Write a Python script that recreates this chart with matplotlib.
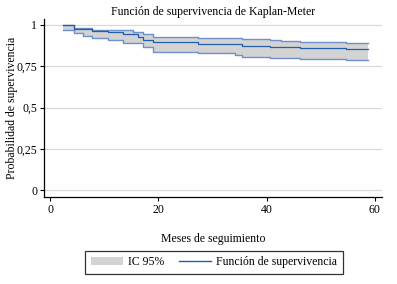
import matplotlib
matplotlib.use("Agg")
import matplotlib.pyplot as plt
from matplotlib.patches import Patch
from matplotlib.lines import Line2D

# Data
months = [2.4, 4.5, 6.0, 7.7, 10.8, 13.5, 15.4, 16.3, 17.2, 19.1, 27.4, 34.1, 35.5, 40.6, 42.7, 46.2, 54.7, 58.7]
survival = [1.0, 0.976, 0.976, 0.964, 0.956, 0.945, 0.945, 0.929, 0.909, 0.895, 0.885, 0.885, 0.873, 0.868, 0.868, 0.859, 0.853, 0.853]
ci_upper = [1.0, 0.984, 0.984, 0.972, 0.968, 0.968, 0.959, 0.959, 0.945, 0.929, 0.919, 0.919, 0.913, 0.909, 0.905, 0.899, 0.891, 0.891]
ci_lower = [0.968, 0.950, 0.933, 0.919, 0.909, 0.893, 0.893, 0.893, 0.868, 0.835, 0.828, 0.818, 0.808, 0.798, 0.798, 0.792, 0.788, 0.788]
x_ticks = [0, 20, 40, 60]
y_ticks = [0, 0.25, 0.5, 0.75, 1]
y_ticklabels = ["0", "0,25", "0,5", "0,75", "1"]

plt.rcParams['font.family'] = ['Liberation Serif', 'DejaVu Serif']

fig = plt.figure(figsize=(3.97, 2.84), dpi=100)
ax = fig.add_axes([0.111, 0.306, 0.851, 0.627])

ax.fill_between(months, ci_lower, ci_upper, step='post', color='#d3d3d3', linewidth=0, zorder=2)
ax.step(months, ci_upper, where='post', color='#6f90c8', lw=1.0, zorder=3)
ax.step(months, ci_lower, where='post', color='#6f90c8', lw=1.0, zorder=3)
ax.step(months, survival, where='post', color='#2060aa', lw=0.9, zorder=4)

ax.set_xlim(-1.1, 61.3)
ax.set_ylim(-0.042, 1.036)
ax.set_xticks(x_ticks)
ax.set_yticks(y_ticks)
ax.set_yticklabels(y_ticklabels)
ax.grid(axis='y', color='#d9d9d9', lw=0.9, zorder=0)
ax.set_axisbelow(True)
for s in ['top', 'right']:
    ax.spines[s].set_visible(False)
ax.spines['left'].set_linewidth(0.9)
ax.spines['bottom'].set_linewidth(0.9)
ax.tick_params(axis='both', labelsize=8.5, length=3, width=0.8, pad=2)

ax.set_title("Función de supervivencia de Kaplan-Meter", fontsize=8.5, pad=3)
ax.set_xlabel("Meses de seguimiento", fontsize=8.5, labelpad=12)
ax.set_ylabel("Probabilidad de supervivencia", fontsize=8.5)
ax.yaxis.set_label_coords(-0.078, 0.5)

handles = [Patch(facecolor='#d3d3d3', edgecolor='none'),
           Line2D([0], [0], color='#2060aa', lw=1)]
leg = fig.legend(handles, ["IC 95%", "Función de supervivencia"], loc='center',
                 bbox_to_anchor=(0.539, 0.076), ncol=2, fontsize=8.5, frameon=True,
                 fancybox=False, edgecolor='black', handlelength=2.7, columnspacing=1.3,
                 handletextpad=0.4, borderpad=0.5, borderaxespad=0)
leg.get_frame().set_linewidth(0.9)

fig.savefig("out.png", dpi=100, facecolor='white')
